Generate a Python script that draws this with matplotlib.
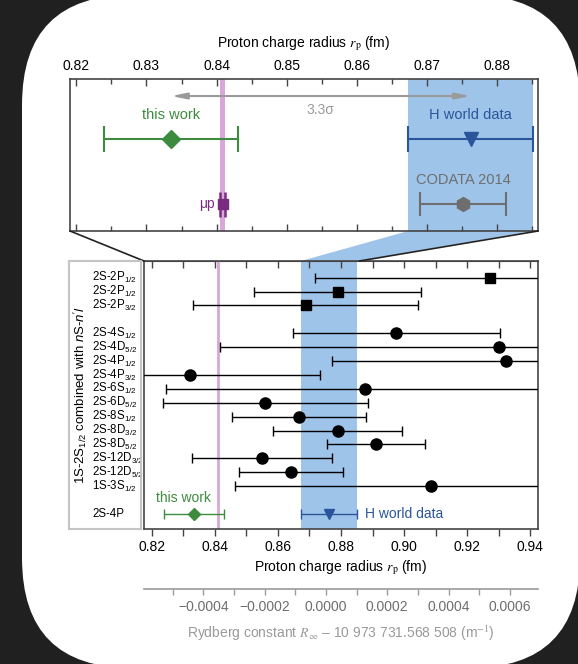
import matplotlib
matplotlib.use("Agg")
import matplotlib.pyplot as plt
from matplotlib.patches import FancyBboxPatch, Rectangle, Polygon, ConnectionPatch
from matplotlib.ticker import MultipleLocator, FuncFormatter
from matplotlib import transforms

plt.rcParams['font.family'] = ['Liberation Sans', 'DejaVu Sans']
plt.rcParams['mathtext.fontset'] = 'custom'
plt.rcParams['mathtext.rm'] = 'Liberation Sans'
plt.rcParams['mathtext.it'] = 'Liberation Sans:italic'
plt.rcParams['mathtext.bf'] = 'Liberation Sans:bold'

# Colores
GREEN = '#3d8b3f'
BLUE = '#2b559b'
PURPLE = '#7a2a80'
PINK = '#d9a7d8'
LIGHT_BLUE = '#9fc4ea'
GREY = '#6e6e6e'
LIGHT_GREY = '#9a9a9a'
AX_COL = '#444444'

# Datos (radio del protón, fm)
this_work, this_work_err = 0.8335, 0.0095
h_world, h_world_err = 0.8762, 0.0089
codata, codata_err = 0.8751, 0.0061
mu_p, mu_p_err = 0.84087, 0.00039
sigma_label = '3.3σ'

row_labels = ['2S-2P$_{1/2}$', '2S-2P$_{1/2}$', '2S-2P$_{3/2}$',
              '2S-4S$_{1/2}$', '2S-4D$_{5/2}$', '2S-4P$_{1/2}$', '2S-4P$_{3/2}$',
              '2S-6S$_{1/2}$', '2S-6D$_{5/2}$', '2S-8S$_{1/2}$', '2S-8D$_{3/2}$',
              '2S-8D$_{5/2}$', '2S-12D$_{3/2}$', '2S-12D$_{5/2}$', '1S-3S$_{1/2}$']
row_values = [0.9273, 0.8790, 0.8688, 0.8975, 0.9302, 0.9325, 0.8320, 0.8877,
              0.8560, 0.8666, 0.8789, 0.8912, 0.8550, 0.8641, 0.9085]
row_errors = [0.0555, 0.0265, 0.0356, 0.0328, 0.0885, 0.0552, 0.0414, 0.0633,
              0.0325, 0.0213, 0.0205, 0.0156, 0.0223, 0.0165, 0.0622]
row_markers = ['s', 's', 's'] + ['o'] * 12

ryd_ticks = [-0.0004, -0.0002, 0.0, 0.0002, 0.0004, 0.0006]

W, H = 578, 664
fig = plt.figure(figsize=(W / 100, H / 100), dpi=100)
fig.patch.set_facecolor('#202020')

# Panel blanco redondeado (en píxeles)
panel = FancyBboxPatch((22, -4), 558, 673, boxstyle="round,pad=0,rounding_size=110",
                       transform=transforms.IdentityTransform(), facecolor='white',
                       edgecolor='none', zorder=-10)
fig.patches.append(panel)


def frac(x0, y0, x1, y1):
    # caja en píxeles (origen arriba-izquierda) -> fracción de figura
    return [x0 / W, 1 - y1 / H, (x1 - x0) / W, (y1 - y0) / H]


# ---------------- Panel superior ----------------
ax1 = fig.add_axes(frac(70, 79, 538, 231))
ax1.set_xlim(0.8191, 0.8858)
ax1.set_ylim(0, 1)
ax1.set_yticks([])
ax1.xaxis.set_major_locator(MultipleLocator(0.01))
ax1.xaxis.set_minor_locator(MultipleLocator(0.005))
ax1.xaxis.set_major_formatter(FuncFormatter(lambda v, p: f"{v:.2f}"))
ax1.tick_params(which='both', top=True, bottom=True, labeltop=True, labelbottom=False,
                direction='in', color=AX_COL, labelsize=10, pad=4)
ax1.tick_params(which='major', length=5, width=1)
ax1.tick_params(which='minor', length=3.5, width=1)
ax1.xaxis.set_label_position('top')
ax1.set_xlabel(r"Proton charge radius $r_\mathrm{p}$ (fm)", fontsize=10, labelpad=9,
               math_fontfamily='stix')
for s in ax1.spines.values():
    s.set_color(AX_COL)
    s.set_linewidth(1.2)

ax1.axvspan(h_world - h_world_err, h_world + h_world_err, color=LIGHT_BLUE, zorder=0, lw=0)
ax1.axvspan(mu_p - mu_p_err, mu_p + mu_p_err, color=PINK, zorder=1, lw=0)

ax1.errorbar(this_work, 0.605, xerr=this_work_err, fmt='D', color=GREEN, ms=9,
             capsize=9.5, elinewidth=1.5, capthick=1.5, zorder=3)
ax1.text(this_work, 0.763, 'this work', color=GREEN, ha='center', va='center', fontsize=10.5)

ax1.errorbar(h_world, 0.605, xerr=h_world_err, fmt='v', color=BLUE, ms=10,
             capsize=9.5, elinewidth=1.5, capthick=1.5, zorder=3)
ax1.text(h_world, 0.763, 'H world data', color=BLUE, ha='center', va='center', fontsize=10.5)

ax1.errorbar(codata, 0.178, xerr=codata_err, fmt='h', color=GREY, ms=10,
             capsize=8.5, elinewidth=1.5, capthick=1.5, zorder=3)
ax1.text(codata, 0.336, 'CODATA 2014', color=GREY, ha='center', va='center', fontsize=10.5)

ax1.errorbar(mu_p, 0.178, xerr=mu_p_err, fmt='s', color=PURPLE, ms=7,
             capsize=9, elinewidth=1.5, capthick=1.8, zorder=3)
ax1.text(mu_p - 0.0012, 0.178, 'μp', color=PURPLE, ha='right', va='center', fontsize=10)

ax1.annotate('', xy=(this_work, 0.888), xytext=(h_world, 0.888),
             arrowprops=dict(arrowstyle='<|-|>,head_length=0.9,head_width=0.18',
                             color=LIGHT_GREY, lw=1.5, shrinkA=0, shrinkB=0))
ax1.text((this_work + h_world) / 2, 0.796, sigma_label, color=LIGHT_GREY,
         ha='center', va='center', fontsize=10)

# ---------------- Panel inferior ----------------
ax2 = fig.add_axes(frac(144, 261, 538, 529))
ax2.set_xlim(0.8175, 0.9425)
ax2.set_ylim(18.08, -1.2)
ax2.set_yticks([])
ax2.xaxis.set_major_locator(MultipleLocator(0.02))
ax2.xaxis.set_minor_locator(MultipleLocator(0.01))
ax2.xaxis.set_major_formatter(FuncFormatter(lambda v, p: f"{v:.2f}"))
ax2.tick_params(which='both', direction='out', color=AX_COL, length=5, width=1,
                labelsize=10, pad=3)
ax2.set_xlabel(r"Proton charge radius $r_\mathrm{p}$ (fm)", fontsize=10, labelpad=3,
               math_fontfamily='stix')
for s in ax2.spines.values():
    s.set_color(AX_COL)
    s.set_linewidth(1.2)
top2 = ax2.secondary_xaxis('top')
top2.xaxis.set_major_locator(MultipleLocator(0.01))
top2.tick_params(direction='in', length=5, width=1, color=AX_COL, labeltop=False)
top2.spines['top'].set_color(AX_COL)

ax2.axvspan(h_world - h_world_err, h_world + h_world_err, color=LIGHT_BLUE, zorder=0, lw=0)
ax2.axvline(mu_p, color=PINK, lw=2, zorder=1)

row_y = [i if i < 3 else i + 1 for i in range(len(row_values))]
for y, v, e, m in zip(row_y, row_values, row_errors, row_markers):
    ax2.errorbar(v, y, xerr=e, fmt=m, color='black', ms=8 if m == 'o' else 6.5,
                 capsize=3.5, elinewidth=1, capthick=1, zorder=3)

tw_y = row_y[-1] + 2
ax2.errorbar(this_work, tw_y, xerr=this_work_err, fmt='D', color=GREEN, ms=6,
             capsize=3.5, elinewidth=1, capthick=1, zorder=3)
ax2.text(0.8213, tw_y - 1.15, 'this work', color=GREEN, ha='left', va='center', fontsize=10)
ax2.errorbar(h_world, tw_y, xerr=h_world_err, fmt='v', color=BLUE, ms=7,
             capsize=3.5, elinewidth=1, capthick=1, zorder=3)
ax2.text(0.8877, tw_y, 'H world data', color=BLUE, ha='left', va='center', fontsize=10)

# Etiquetas de las filas y caja gris
lab_tr = transforms.blended_transform_factory(fig.transFigure, ax2.transData)
for y, lab in zip(row_y, row_labels):
    ax2.text(92 / W, y, lab, transform=lab_tr, ha='left', va='center', fontsize=8.3,
             clip_on=False)
ax2.text(92 / W, tw_y, '2S-4P', transform=lab_tr, ha='left', va='center', fontsize=8.3,
         clip_on=False)
b = frac(69, 261, 141, 529)
fig.patches.append(Rectangle((b[0], b[1]), b[2], b[3], transform=fig.transFigure,
                             fill=False, edgecolor='#c4c4c4', lw=1.5))
fig.text(80 / W, 1 - 395 / H, r"1S-2S$_{1/2}$ combined with $n$S-$n'l$", rotation=90,
         ha='center', va='center', fontsize=9.5)

# Líneas de zoom entre paneles
for xa, xb in [(ax1.get_xlim()[0], ax2.get_xlim()[0]), (ax1.get_xlim()[1], ax1.get_xlim()[1])]:
    con = ConnectionPatch(xyA=(xa, 0), coordsA=ax1.transData,
                          xyB=(xb, ax2.get_ylim()[1]), coordsB=ax2.transData,
                          color='#222222', lw=1.2)
    fig.add_artist(con)

inv = fig.transFigure.inverted()
lo, hi = h_world - h_world_err, h_world + h_world_err
pts = [ax1.transData.transform((lo, 0)), ax1.transData.transform((hi, 0)),
       ax2.transData.transform((hi, ax2.get_ylim()[1])), ax2.transData.transform((lo, ax2.get_ylim()[1]))]
pts = [inv.transform(p) for p in pts]
fig.patches.append(Polygon(pts, closed=True, transform=fig.transFigure,
                           facecolor=LIGHT_BLUE, edgecolor='none', zorder=-5))

# ---------------- Eje de Rydberg ----------------
ax3 = fig.add_axes(frac(144, 588.9, 538, 589))
ax3.set_facecolor('none')
ax3.set_xlim(-0.000594, 0.000692)
ax3.set_yticks([])
for k in ['left', 'right', 'top']:
    ax3.spines[k].set_visible(False)
ax3.spines['bottom'].set_color(LIGHT_GREY)
ax3.spines['bottom'].set_linewidth(1.2)
ax3.set_xticks(ryd_ticks)
ax3.xaxis.set_minor_locator(MultipleLocator(0.0001))
ax3.xaxis.set_major_formatter(FuncFormatter(
    lambda v, p: "0.0000" if abs(v) < 1e-9 else f"{v:.4f}".replace('-', '\u2212')))
ax3.tick_params(which='both', direction='out', color=LIGHT_GREY, length=4, width=1,
                labelcolor=GREY, labelsize=10, pad=4)
ax3.set_xlabel(r"Rydberg constant $R_\infty$ – 10 973 731.568 508 (m$^{-1}$)",
               color=LIGHT_GREY, fontsize=10, labelpad=7, math_fontfamily='stix')

fig.savefig('out.png', dpi=100, facecolor=fig.get_facecolor())
